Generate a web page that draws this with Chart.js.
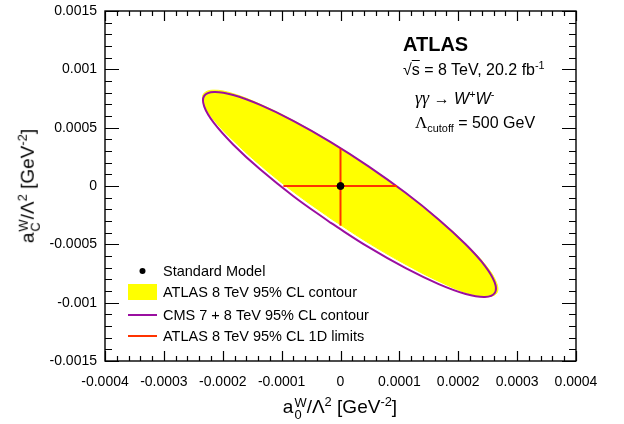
<!DOCTYPE html>
<html>
<head>
<meta charset="utf-8">
<script src="https://cdn.jsdelivr.net/npm/chart.js@4.4.1/dist/chart.umd.min.js"></script>
<style>
  body { margin: 0; background: #fff; }
  #wrap { position: relative; width: 624px; height: 424px; font-family: "Liberation Sans", Arial, sans-serif; color: #000; }
  #wrap canvas { position: absolute; left: 0; top: 0; }
  .txt { position: absolute; white-space: nowrap; line-height: 1; }
  .up { position: relative; font-size: 68%; top: -0.55em; }
  .dn { position: relative; font-size: 68%; top: 0.35em; }
  .ss { display: inline-block; font-size: 68%; line-height: 0.95; vertical-align: -0.45em; margin-left: 1px; }
  .ss span { display: block; }
  .sym { font-family: "Liberation Serif", "DejaVu Serif", serif; }
</style>
</head>
<body>
<div id="wrap">
  <canvas id="chart" width="624" height="424"></canvas>
  <div class="txt" style="left:403px; top:34px; font-size:20px; font-weight:bold;">ATLAS</div>
  <div class="txt" style="left:403px; top:62px; font-size:16px;">&radic;<span style="text-decoration:overline">s</span> = 8 TeV, 20.2 fb<span class="up">-1</span></div>
  <div class="txt" style="left:415px; top:89px; font-size:16px;"><span class="sym" style="font-style:italic; font-size:18px;">&gamma;&gamma;</span> <span class="sym">&rarr;</span> <i>W</i><span class="up">+</span><i>W</i><span class="up">-</span></div>
  <div class="txt" style="left:415px; top:114px; font-size:16px;"><span class="sym" style="font-size:17px;">&Lambda;</span><span class="dn">cutoff</span> = 500 GeV</div>
  <div class="txt" id="xtitle" style="left:340px; top:409px; font-size:19px; transform:translate(-50%,-50%);">a<span class="ss"><span>W</span><span>0</span></span>/&Lambda;<span class="up">2</span> [GeV<span class="up">-2</span>]</div>
  <div class="txt" id="ytitle" style="left:30px; top:186px; font-size:19px; transform:translate(-50%,-50%) rotate(-90deg);">a<span class="ss"><span>W</span><span>C</span></span>/&Lambda;<span class="up">2</span> [GeV<span class="up">-2</span>]</div>
</div>
<script>
// axis ranges and tick labels
const xTicks = [-0.0004, -0.0003, -0.0002, -0.0001, 0, 0.0001, 0.0002, 0.0003, 0.0004];
const xTickLabels = ['-0.0004', '-0.0003', '-0.0002', '-0.0001', '0', '0.0001', '0.0002', '0.0003', '0.0004'];
const yTicks = [-0.0015, -0.001, -0.0005, 0, 0.0005, 0.001, 0.0015];
const yTickLabels = ['-0.0015', '-0.001', '-0.0005', '0', '0.0005', '0.001', '0.0015'];

// Standard Model point
const smA0 = [0];
const smAC = [0];

// ATLAS 1D limits (a0 at aC = 0, aC at a0 = 0)
const limitA0 = [-0.000097, 0.000096];
const limitAC = [-0.00034, 0.00032];

// ATLAS 8 TeV 95% CL contour
const atlasA0 = [-0.0000146, -0.0000780, -0.0001346, -0.0001810, -0.0002144, -0.0002318, -0.0002326, -0.0002160,
  -0.0001832, -0.0001373, -0.0000810, -0.0000180, 0.0000475, 0.0001108, 0.0001675, 0.0002139, 0.0002473,
  0.0002648, 0.0002656, 0.0002490, 0.0002161, 0.0001702, 0.0001139, 0.0000508, -0.0000146];
const atlasAC = [-0.0002856, -0.0000577, 0.0001711, 0.0003836, 0.0005620, 0.0006990, 0.0007895, 0.0008215,
  0.0007930, 0.0007027, 0.0005638, 0.0003813, 0.0001688, -0.0000591, -0.0002879, -0.0005004, -0.0006838,
  -0.0008262, -0.0009165, -0.0009490, -0.0009190, -0.0008245, -0.0006807, -0.0004981, -0.0002856];

// CMS 7 + 8 TeV 95% CL contour
const cmsA0 = [-0.0000171, -0.0000800, -0.0001361, -0.0001820, -0.0002147, -0.0002314, -0.0002315, -0.0002147,
  -0.0001822, -0.0001363, -0.0000802, -0.0000173, 0.0000476, 0.0001105, 0.0001666, 0.0002125, 0.0002453,
  0.0002619, 0.0002620, 0.0002453, 0.0002127, 0.0001668, 0.0001107, 0.0000478, -0.0000171];
const cmsAC = [-0.0003145, -0.0000874, 0.0001405, 0.0003539, 0.0005381, 0.0006804, 0.0007721, 0.0008055,
  0.0007798, 0.0006949, 0.0005587, 0.0003787, 0.0001688, -0.0000583, -0.0002862, -0.0004996, -0.0006838,
  -0.0008260, -0.0009177, -0.0009512, -0.0009254, -0.0008406, -0.0007044, -0.0005244, -0.0003145];

const legendLabels = ['Standard Model', 'ATLAS 8 TeV 95% CL contour', 'CMS 7 + 8 TeV 95% CL contour', 'ATLAS 8 TeV 95% CL 1D limits'];

const toPoints = (xs, ys) => xs.map((v, i) => ({ x: v, y: ys[i] }));

const YELLOW = '#ffff00';
const PURPLE = '#9a0fa0';
const RED = '#ff3300';

// ROOT style frame: ticks inside on all four sides
const rootFrame = {
  id: 'rootFrame',
  afterDatasetsDraw(chart) {
    const { ctx, chartArea: a, scales: { x, y } } = chart;
    ctx.save();
    ctx.strokeStyle = '#000';
    ctx.lineWidth = 1.2;
    ctx.beginPath();
    for (let i = 0; i <= 40; i++) {
      const px = Math.round(x.getPixelForValue(-0.0004 + i * 0.00002)) + 0.5;
      const len = i % 5 === 0 ? 10 : 5;
      ctx.moveTo(px, a.bottom); ctx.lineTo(px, a.bottom - len);
      ctx.moveTo(px, a.top); ctx.lineTo(px, a.top + len);
    }
    for (let i = 0; i <= 30; i++) {
      const py = Math.round(y.getPixelForValue(-0.0015 + i * 0.0001)) + 0.5;
      const len = i % 5 === 0 ? 14 : 7;
      ctx.moveTo(a.left, py); ctx.lineTo(a.left + len, py);
      ctx.moveTo(a.right, py); ctx.lineTo(a.right - len, py);
    }
    ctx.stroke();
    ctx.lineWidth = 1.4;
    ctx.strokeRect(a.left, a.top, a.right - a.left, a.bottom - a.top);
    ctx.restore();
  }
};

// legend in the lower left of the frame
const rootLegend = {
  id: 'rootLegend',
  afterDraw(chart) {
    const { ctx } = chart;
    const ds = chart.data.datasets;
    const rows = [271, 292, 315, 336];
    ctx.save();
    ctx.font = '14.5px "Liberation Sans", Arial, sans-serif';
    ctx.textBaseline = 'middle';
    ctx.fillStyle = '#000';
    legendLabels.forEach((t, i) => ctx.fillText(t, 163, rows[i] + 1));
    // Standard Model
    ctx.fillStyle = ds[0].backgroundColor;
    ctx.beginPath(); ctx.arc(142.5, rows[0], 3, 0, Math.PI * 2); ctx.fill();
    // ATLAS contour
    ctx.fillStyle = ds[4].backgroundColor;
    ctx.fillRect(128, rows[1] - 8, 29, 16);
    // CMS contour
    ctx.strokeStyle = ds[3].borderColor;
    ctx.lineWidth = 2;
    ctx.beginPath(); ctx.moveTo(128, rows[2]); ctx.lineTo(157, rows[2]); ctx.stroke();
    // 1D limits
    ctx.strokeStyle = ds[1].borderColor;
    ctx.beginPath(); ctx.moveTo(128, rows[3]); ctx.lineTo(157, rows[3]); ctx.stroke();
    ctx.restore();
  }
};

new Chart(document.getElementById('chart'), {
  type: 'scatter',
  data: {
    datasets: [
      {
        label: legendLabels[0],
        data: toPoints(smA0, smAC),
        backgroundColor: '#000',
        borderColor: '#000',
        pointRadius: 3.5,
        order: 0,
      },
      {
        label: legendLabels[3],
        data: toPoints(limitA0, [0, 0]),
        showLine: true,
        borderColor: RED,
        borderWidth: 2,
        pointRadius: 0,
        order: 1,
      },
      {
        label: legendLabels[3],
        data: toPoints([0, 0], limitAC),
        showLine: true,
        borderColor: RED,
        borderWidth: 2,
        pointRadius: 0,
        order: 1,
      },
      {
        label: legendLabels[2],
        data: toPoints(cmsA0, cmsAC),
        showLine: true,
        borderColor: PURPLE,
        borderWidth: 2,
        pointRadius: 0,
        tension: 0.4,
        fill: false,
        order: 2,
      },
      {
        label: legendLabels[1],
        data: toPoints(atlasA0, atlasAC),
        showLine: true,
        borderColor: YELLOW,
        backgroundColor: YELLOW,
        borderWidth: 1,
        pointRadius: 0,
        tension: 0.4,
        fill: 'shape',
        order: 3,
      },
    ],
  },
  options: {
    responsive: false,
    animation: false,
    devicePixelRatio: 1,
    layout: { padding: { top: 11, right: 48, left: 0, bottom: 0 } },
    plugins: { legend: { display: false }, tooltip: { enabled: false } },
    scales: {
      x: {
        type: 'linear',
        min: -0.0004,
        max: 0.0004,
        grid: { display: false },
        border: { display: false },
        afterBuildTicks: (s) => { s.ticks = xTicks.map((v) => ({ value: v })); },
        afterFit: (s) => { s.height = 63; },
        ticks: {
          padding: 5,
          color: '#000',
          font: { family: '"Liberation Sans", Arial, sans-serif', size: 14 },
          callback: (v, i) => xTickLabels[i],
          maxRotation: 0,
        },
      },
      y: {
        type: 'linear',
        min: -0.0015,
        max: 0.0015,
        grid: { display: false },
        border: { display: false },
        afterBuildTicks: (s) => { s.ticks = yTicks.map((v) => ({ value: v })); },
        afterFit: (s) => { s.width = 105; },
        ticks: {
          padding: 0,
          color: '#000',
          font: { family: '"Liberation Sans", Arial, sans-serif', size: 14 },
          callback: (v, i) => yTickLabels[i],
        },
      },
    },
  },
  plugins: [rootFrame, rootLegend],
});
</script>
</body>
</html>
